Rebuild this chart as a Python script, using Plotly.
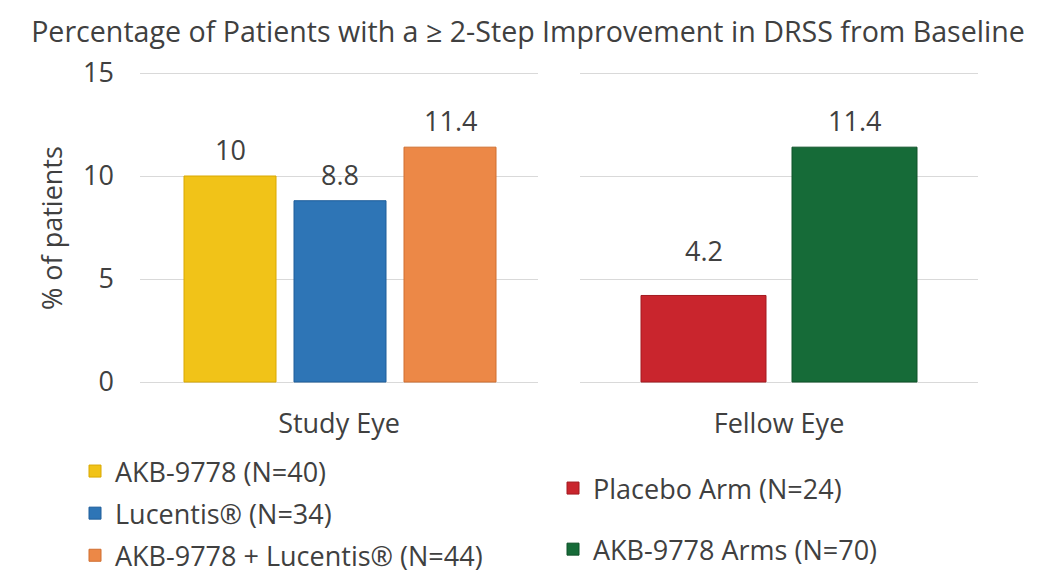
import plotly.graph_objects as go

categories = ["Study Eye", "Fellow Eye"]
study_names = ["AKB-9778 (N=40)", "Lucentis® (N=34)", "AKB-9778 + Lucentis® (N=44)"]
study_values = [10, 8.8, 11.4]
fellow_names = ["Placebo Arm (N=24)", "AKB-9778 Arms (N=70)"]
fellow_values = [4.2, 11.4]
y_ticks = [0, 5, 10, 15]
title_text = "Percentage of Patients with a ≥ 2-Step Improvement in DRSS from Baseline"
y_title = "% of patients"

study_colors = ["#F1C318", "#2E75B6", "#EC8847"]
study_lines = ["#D9A800", "#1F5E9A", "#D06F30"]
fellow_colors = ["#C9252D", "#166B38"]
fellow_lines = ["#A31A20", "#0F5229"]

FONT = "Open Sans"
TXT = "#404040"
W, H = 1040, 584
FS = 27
OFF = 8  # page body margin


def px(x):
    return (x - OFF) / W


def py_(y):
    return 1 - (y - OFF) / H


# pixel layout (screen)
px_l = (140, 538)
px_r = (580, 978)
Y_MIN, Y_MAX = -0.1, 15.15
UNIT = 309 / 15  # pixels per percentage point
y_zero = 382
y_bottom = y_zero - Y_MIN * UNIT
y_top = y_zero - Y_MAX * UNIT

study_width = 92 / 398
study_offsets = [(184 - 339) / 398, (294 - 339) / 398, (404 - 339) / 398]
fellow_width = 125 / 398
fellow_offsets = [(641 - 779) / 398, (792 - 779) / 398]
study_shift = [6, 6, 6]
fellow_shift = [24, 6]

fig = go.Figure()
for i, (n, v) in enumerate(zip(study_names, study_values)):
    fig.add_trace(go.Bar(
        x=[categories[0]], y=[v], name=n, xaxis="x", yaxis="y",
        width=study_width, offset=study_offsets[i],
        marker=dict(color=study_colors[i], line=dict(color=study_lines[i], width=1)),
        legend="legend", legendgroup=n, hoverinfo="skip"))
for i, (n, v) in enumerate(zip(fellow_names, fellow_values)):
    fig.add_trace(go.Bar(
        x=[categories[1]], y=[v], name=n, xaxis="x2", yaxis="y2",
        width=fellow_width, offset=fellow_offsets[i],
        marker=dict(color=fellow_colors[i], line=dict(color=fellow_lines[i], width=1)),
        legend="legend2", legendgroup=n, hoverinfo="skip"))

annotations = []
for i, v in enumerate(study_values):
    annotations.append(dict(
        x=study_offsets[i] + study_width / 2, y=v, xref="x", yref="y",
        text=str(v), showarrow=False, yanchor="bottom", yshift=study_shift[i],
        font=dict(family=FONT, size=FS, color=TXT)))
for i, v in enumerate(fellow_values):
    annotations.append(dict(
        x=fellow_offsets[i] + fellow_width / 2, y=v, xref="x2", yref="y2",
        text=str(v), showarrow=False, yanchor="bottom", yshift=fellow_shift[i],
        font=dict(family=FONT, size=FS, color=TXT)))
annotations.append(dict(
    x=px(52), y=py_(228), xref="paper", yref="paper", text=y_title,
    textangle=-90, showarrow=False, xanchor="center", yanchor="middle",
    font=dict(family=FONT, size=FS, color=TXT)))

grid = "#D9D9D9"
axis_common = dict(showline=False, zeroline=False, showgrid=True, gridcolor=grid,
                   gridwidth=1, range=[Y_MIN, Y_MAX], tickvals=y_ticks)

fig.update_layout(
    width=W, height=H,
    margin=dict(l=0, r=0, t=0, b=0, autoexpand=False),
    paper_bgcolor="white", plot_bgcolor="white",
    barmode="overlay",
    font=dict(family=FONT, color=TXT),
    title=dict(text=title_text, x=px(528), xanchor="center", y=py_(32), yanchor="middle",
               font=dict(family=FONT, size=28.6, color=TXT), automargin=False),
    xaxis=dict(domain=[px(px_l[0]), px(px_l[1])], type="category", range=[-0.5, 0.5],
               showgrid=False, showline=False, zeroline=False, ticks="",
               tickfont=dict(family=FONT, size=FS, color=TXT), ticklabelstandoff=21),
    xaxis2=dict(domain=[px(px_r[0]), px(px_r[1])], type="category", range=[-0.5, 0.5],
                showgrid=False, showline=False, zeroline=False, ticks="",
                tickfont=dict(family=FONT, size=FS, color=TXT), ticklabelstandoff=21),
    yaxis=dict(domain=[py_(y_bottom), py_(y_top)], anchor="x",
               tickfont=dict(family=FONT, size=FS, color=TXT), ticklabelstandoff=25,
               **axis_common),
    yaxis2=dict(domain=[py_(y_bottom), py_(y_top)], anchor="x2",
                showticklabels=False, **axis_common),
    legend=dict(x=67 / W, y=1 - 439 / H, xanchor="left", yanchor="top",
                font=dict(family=FONT, size=FS, color=TXT), tracegroupgap=4,
                bgcolor="rgba(0,0,0,0)", itemclick=False, itemdoubleclick=False),
    legend2=dict(x=545 / W, y=1 - 456 / H, xanchor="left", yanchor="top",
                 font=dict(family=FONT, size=FS, color=TXT), tracegroupgap=23,
                 bgcolor="rgba(0,0,0,0)", itemclick=False, itemdoubleclick=False),
    annotations=annotations,
    showlegend=True,
)

fig.write_html("out.html")
